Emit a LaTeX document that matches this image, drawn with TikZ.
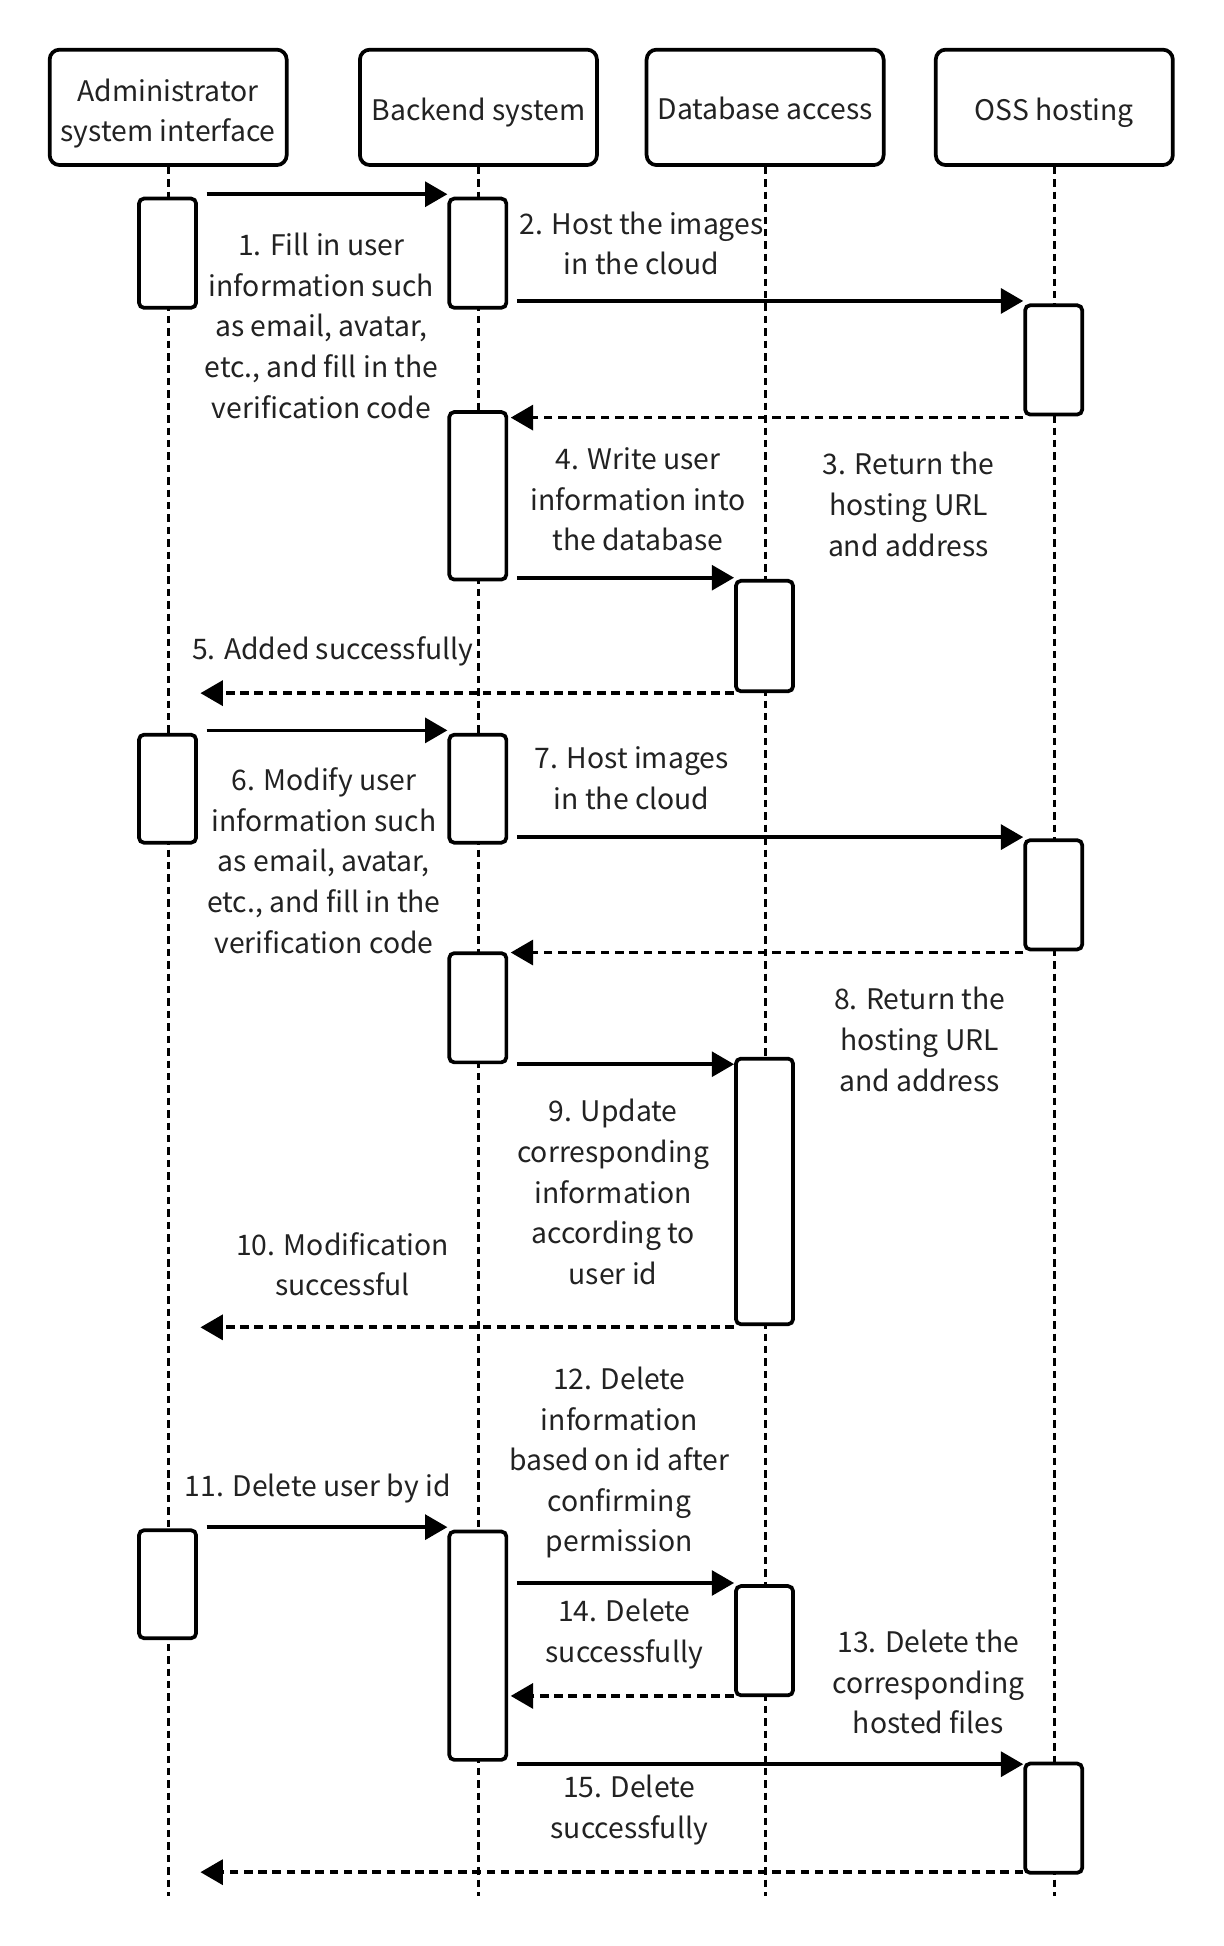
\documentclass[tikz,border=0pt]{standalone}
\usepackage{fontspec}
\setmainfont{Noto Sans CJK SC}
\usetikzlibrary{arrows.meta,calc}
\definecolor{txt}{RGB}{34,34,34}
\begin{document}
\begin{tikzpicture}[x=1pt,y=-1pt,
  hdr/.style={draw, line width=3pt, rounded corners=8pt, minimum width=191pt, minimum height=93pt, inner sep=0pt},
  hdrtxt/.style={align=center, inner sep=0pt, text=txt, font=\fontsize{22.8}{32.7}\selectfont},
  act/.style={draw, fill=white, line width=3pt, rounded corners=4pt, minimum width=46pt, inner sep=0pt},
  life/.style={line width=2.6pt, dash pattern=on 6pt off 4pt},
  msg/.style={line width=3pt, -{Triangle[length=18pt,width=20pt]}},
  ret/.style={msg, dash pattern=on 7pt off 4.5pt},
  lbl/.style={align=center, inner sep=0pt, text=txt, font=\fontsize{22.8}{32.7}\selectfont}
]
\useasboundingbox (0,0) rectangle (986,1568);
\fill[white] (0,0) rectangle (986,1568);

% headers
\node[hdr] (h1) at (135.5,86.5) {};
\node[hdr] (h2) at (385.5,86.5) {};
\node[hdr] (h3) at (616.5,86.5) {};
\node[hdr] (h4) at (849.5,86.5) {};
\node[hdrtxt] (t1) at ($(h1.center)+(0,5)$) {Administrator\\system interface};
\node[hdrtxt] (t2) at ($(h2.center)+(0,4)$) {Backend system};
\node[hdrtxt] (t3) at ($(h3.center)+(0,1)$) {Database access};
\node[hdrtxt] (t4) at ($(h4.center)+(0,4)$) {OSS hosting};

% lifelines
\coordinate (end) at (0,1528);
\draw[life] (h1.south) -- (h1.south |- end);
\draw[life] (h2.south) -- (h2.south |- end);
\draw[life] (h3.south) -- (h3.south |- end);
\draw[life] (h4.south) -- (h4.south |- end);

% activations
\node[act, minimum height=88pt] (a1) at (135,204) {};
\node[act, minimum height=88pt] (b1) at (385,204) {};
\node[act, minimum height=88pt] (d1) at (849,290) {};
\node[act, minimum height=135pt] (b2) at (385,399.5) {};
\node[act, minimum height=89pt] (c1) at (616,512.5) {};
\node[act, minimum height=87pt] (a2) at (135,635.5) {};
\node[act, minimum height=87pt] (b3) at (385,635.5) {};
\node[act, minimum height=88pt] (d2) at (849,721) {};
\node[act, minimum height=88pt] (b4) at (385,812) {};
\node[act, minimum height=214pt] (c2) at (616,960) {};
\node[act, minimum height=87pt] (a3) at (135,1276.5) {};
\node[act, minimum height=184pt] (b5) at (385,1326) {};
\node[act, minimum height=88pt] (c3) at (616,1322) {};
\node[act, minimum height=88pt] (d3) at (849,1465) {};

% messages
\draw[msg] ($(a1.north east)+(7,-2)$) -- ($(b1.north west)+(0,-2)$);
\draw[msg] ($(b1.east |- d1.north)+(7,-2)$) -- ($(d1.north west)+(0,-2)$);
\draw[ret] ($(d1.south west)+(0,1)$) -- ($(b2.east |- d1.south)+(2,1)$);
\draw[msg] ($(b2.east |- c1.north)+(7,-1)$) -- ($(c1.north west)+(0,-1)$);
\draw[ret] ($(c1.south west)+(0,0)$) -- ($(a1.east |- c1.south)+(2,0)$);
\draw[msg] ($(a2.north east)+(7,-2)$) -- ($(b3.north west)+(0,-2)$);
\draw[msg] ($(b3.east |- d2.north)+(7,-1)$) -- ($(d2.north west)+(0,-1)$);
\draw[ret] ($(d2.south west)+(0,1)$) -- ($(b4.east |- d2.south)+(2,1)$);
\draw[msg] ($(b4.south east)+(7,0)$) -- (c2.west |- b4.south);
\draw[ret] ($(c2.south west)+(0,1)$) -- ($(a2.east |- c2.south)+(2,1)$);
\draw[msg] ($(a3.north east)+(7,-1)$) -- ($(b5.north west)+(0,-2)$);
\draw[msg] ($(b5.east |- c3.north)+(7,-1)$) -- ($(c3.north west)+(0,-1)$);
\draw[ret] ($(c3.south west)+(0,-1)$) -- ($(b5.east |- c3.south)+(2,-1)$);
\draw[msg] ($(b5.south east)+(7,2)$) -- ($(d3.west |- b5.south)+(0,2)$);
\draw[ret] ($(d3.south west)+(0,-2)$) -- ($(a3.east |- d3.south)+(2,-2)$);

% labels
\node[lbl] (l1) at (259,262.5) {1. Fill in user\\information such\\as email, avatar,\\etc., and fill in the\\verification code};
\node[lbl] (l2) at (517,196) {2. Host the images\\in the cloud};
\node[lbl] (l3) at (732,406.5) {3. Return the\\hosting URL\\and address};
\node[lbl] (l4) at (514,402.5) {4. Write user\\information into\\the database};
\node[lbl] (l5) at (268,525) {5. Added successfully};
\node[lbl] (l6) at (261,693.5) {6. Modify user\\information such\\as email, avatar,\\etc., and fill in the\\verification code};
\node[lbl] (l7) at (509,627) {7. Host images\\in the cloud};
\node[lbl] (l8) at (741,837.5) {8. Return the\\hosting URL\\and address};
\node[lbl] (l9) at (494,960.5) {9. Update\\corresponding\\information\\according to\\user id};
\node[lbl] (l10) at (276,1018.5) {10. Modification\\successful};
\node[lbl] (l11) at (256,1199.5) {11. Delete user by id};
\node[lbl] (l12) at (499,1178.5) {12. Delete\\information\\based on id after\\confirming\\permission};
\node[lbl] (l13) at (748,1355.5) {13. Delete the\\corresponding\\hosted files};
\node[lbl] (l14) at (503,1316.5) {14. Delete\\successfully};
\node[lbl] (l15) at (507,1458.5) {15. Delete\\successfully};
\end{tikzpicture}
\end{document}
